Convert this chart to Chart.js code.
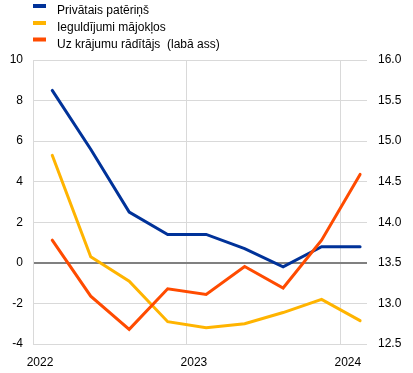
<!DOCTYPE html>
<html>
<head>
<meta charset="utf-8">
<script src="https://cdn.jsdelivr.net/npm/chart.js@4/dist/chart.umd.min.js"></script>
<style>
  html, body { margin: 0; padding: 0; background: #fff; }
  #wrap { width: 413px; height: 373px; position: relative; }
</style>
</head>
<body>
<div id="wrap"><canvas id="c" width="413" height="373"></canvas></div>
<script>
// Categories (quarters)
const quarters = ['2022 Q1','2022 Q2','2022 Q3','2022 Q4','2023 Q1','2023 Q2','2023 Q3','2023 Q4','2024 Q1'];
// Series values
const privatePatrins = [8.5, 5.6, 2.5, 1.4, 1.4, 0.7, -0.2, 0.8, 0.8];
const housingInvest = [5.3, 0.3, -0.9, -2.9, -3.2, -3.0, -2.45, -1.8, -2.85];
const savingsRatio = [13.78, 13.09, 12.68, 13.18, 13.11, 13.455, 13.19, 13.78, 14.59];
// Tick labels
const yearTicks = [2022, 2023, 2024];
const seriesNames = ['Privātais patēriņš', 'Ieguldījumi mājokļos', 'Uz krājumu rādītājs  (labā ass)'];
const seriesColors = ['#003299', '#FFB400', '#FF4B00'];

function qToX(q) {
  const parts = q.split(' Q');
  return Number(parts[0]) + (Number(parts[1]) - 0.5) / 4;
}
function toPoints(vals) {
  return vals.map((v, i) => ({ x: qToX(quarters[i]), y: v }));
}

const FONT = 'Liberation Sans, Arial, sans-serif';

const legendPlugin = {
  id: 'customLegend',
  afterDraw(chart) {
    const ctx = chart.ctx;
    ctx.save();
    const rows = [11, 28, 44.5];
    ctx.font = '12px ' + FONT;
    ctx.textBaseline = 'middle';
    ctx.textAlign = 'left';
    seriesNames.forEach((name, i) => {
      ctx.fillStyle = seriesColors[i];
      ctx.fillRect(33, rows[i] - 7, 13, 4);
      ctx.fillStyle = '#000';
      ctx.fillText(name, 57, rows[i]);
    });
    ctx.restore();
  }
};

new Chart(document.getElementById('c'), {
  type: 'line',
  data: {
    datasets: [
      { label: seriesNames[0], data: toPoints(privatePatrins), borderColor: seriesColors[0], yAxisID: 'y', order: 1 },
      { label: seriesNames[1], data: toPoints(housingInvest), borderColor: seriesColors[1], yAxisID: 'y', order: 2 },
      { label: seriesNames[2], data: toPoints(savingsRatio), borderColor: seriesColors[2], yAxisID: 'y2', order: 0 }
    ].map(d => Object.assign(d, { borderWidth: 3, pointRadius: 0, tension: 0, fill: false, borderCapStyle: 'round', borderJoinStyle: 'miter' }))
  },
  options: {
    responsive: false,
    animation: false,
    devicePixelRatio: 1,
    layout: { padding: { top: 60, left: 0, right: 0, bottom: 0 } },
    plugins: { legend: { display: false }, tooltip: { enabled: false } },
    scales: {
      x: {
        type: 'linear',
        min: 2022,
        max: 2024.17,
        afterBuildTicks(scale) { scale.ticks = yearTicks.map(v => ({ value: v })); },
        afterFit(scale) { scale.height = 29; },
        ticks: {
          callback: v => String(v),
          font: { family: FONT, size: 12 },
          color: '#000',
          padding: 11,
          labelOffset: 7,
          maxRotation: 0,
          autoSkip: false
        },
        grid: { color: '#d9d9d9', lineWidth: 1, drawTicks: false },
        border: { display: false }
      },
      y: {
        position: 'left',
        min: -4,
        max: 10,
        afterBuildTicks(scale) {
          const t = [];
          for (let v = -4; v <= 10; v += 2) t.push({ value: v });
          scale.ticks = t;
        },
        afterFit(scale) { scale.width = 33; },
        ticks: { font: { family: FONT, size: 12 }, color: '#000', padding: 10 },
        grid: {
          color: c => (c.tick && c.tick.value === 0) ? '#808080' : '#d9d9d9',
          lineWidth: c => (c.tick && c.tick.value === 0) ? 2 : 1,
          drawTicks: false
        },
        border: { color: '#d9d9d9', width: 1 }
      },
      y2: {
        position: 'right',
        min: 12.5,
        max: 16,
        afterBuildTicks(scale) {
          const t = [];
          for (let v = 12.5; v <= 16.001; v += 0.5) t.push({ value: Math.round(v * 10) / 10 });
          scale.ticks = t;
        },
        afterFit(scale) { scale.width = 46; },
        ticks: { font: { family: FONT, size: 12 }, color: '#000', padding: 11, callback: v => Number(v).toFixed(1) },
        grid: { drawOnChartArea: false, drawTicks: false },
        border: { display: false }
      }
    }
  },
  plugins: [legendPlugin]
});
</script>
</body>
</html>
